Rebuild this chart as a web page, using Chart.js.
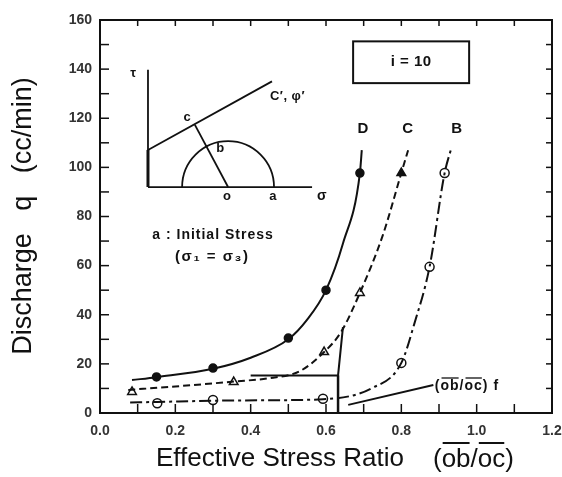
<!DOCTYPE html>
<html>
<head>
<meta charset="utf-8">
<script src="https://cdn.jsdelivr.net/npm/chart.js@4.4.1/dist/chart.umd.min.js"></script>
<style>
  html, body { margin: 0; padding: 0; background: #fff; }
</style>
</head>
<body>
<canvas id="chart" width="562" height="477"></canvas>
<script>
// measured points (markers)
var dX = [0.15, 0.30, 0.50, 0.60, 0.69];
var dY = [14.7, 18.3, 30.5, 50, 97.7];
var cX = [0.085, 0.355, 0.595, 0.69, 0.80];
var cY = [8.6, 12.6, 24.8, 48.9, 97.7];
var bX = [0.152, 0.30, 0.592, 0.80, 0.875, 0.915];
var bY = [4.0, 5.3, 5.8, 20.4, 59.5, 97.7];

// fitted curves
var dCurveX = [0.085, 0.15, 0.30, 0.40, 0.50, 0.55, 0.60, 0.645, 0.69, 0.695];
var dCurveY = [13.4, 14.6, 18.0, 22.5, 30.0, 38, 50, 69, 97.7, 107];
var cCurveX = [0.075, 0.20, 0.355, 0.45, 0.53, 0.595, 0.64, 0.69, 0.75, 0.80, 0.818];
var cCurveY = [9.4, 10.8, 12.8, 14.2, 17.0, 24.8, 33, 48.9, 72, 97.7, 107];
var bCurveX = [0.08, 0.152, 0.30, 0.45, 0.592, 0.72, 0.80, 0.835, 0.875, 0.915, 0.933];
var bCurveY = [4.3, 4.5, 5.0, 5.2, 5.6, 10, 20.4, 36.6, 59.5, 97.7, 108];

// (ob/oc)f guide lines
var guideX = [0.40, 0.632, 0.645];
var guideY = [15.3, 15.3, 35];
var stemX = [0.632, 0.632];
var stemY = [0, 15.3];
var leaderX = [0.659, 0.885];
var leaderY = [3.3, 11.4];

var xTicks = [0, 0.2, 0.4, 0.6, 0.8, 1.0, 1.2];
var yTicks = [0, 20, 40, 60, 80, 100, 120, 140, 160];

var ink = "#111";
var sans = "'Liberation Sans', Arial, sans-serif";

function pts(xs, ys) {
  return xs.map(function (x, i) { return { x: x, y: ys[i] }; });
}

function curve(xs, ys, dash) {
  return {
    data: pts(xs, ys),
    showLine: true,
    borderColor: ink,
    borderWidth: 2,
    borderDash: dash,
    pointRadius: 0,
    tension: 0.4,
    cubicInterpolationMode: "monotone",
  };
}

function straight(xs, ys, w) {
  return {
    data: pts(xs, ys),
    showLine: true,
    borderColor: ink,
    borderWidth: w,
    pointRadius: 0,
    tension: 0,
  };
}

function marks(xs, ys, style, fill, r) {
  return {
    data: pts(xs, ys),
    showLine: false,
    pointStyle: style,
    pointRadius: r,
    pointBackgroundColor: fill,
    pointBorderColor: ink,
    pointBorderWidth: 1.5,
  };
}

function overText(ctx, parts, x, y, lw) {
  parts.forEach(function (p) {
    var w = ctx.measureText(p[0]).width;
    ctx.fillText(p[0], x, y);
    if (p[1]) {
      ctx.lineWidth = lw;
      ctx.beginPath();
      ctx.moveTo(x + 1, y - p[1]);
      ctx.lineTo(x + w - 1, y - p[1]);
      ctx.stroke();
    }
    x += w;
  });
}

var extras = {
  id: "extras",
  afterDatasetsDraw: function (chart) {
    var ctx = chart.ctx, a = chart.chartArea;
    var sx = chart.scales.x, sy = chart.scales.y;
    function P(vx, vy) { return [sx.getPixelForValue(vx), sy.getPixelForValue(vy)]; }
    function seg(p, q) { ctx.beginPath(); ctx.moveTo(p[0], p[1]); ctx.lineTo(q[0], q[1]); ctx.stroke(); }
    function txt(s, p, size, align, sp) {
      ctx.font = "bold " + size + "px " + sans;
      ctx.textAlign = align || "center";
      ctx.letterSpacing = (sp || 0) + "px";
      ctx.fillText(s, p[0], p[1]);
      ctx.letterSpacing = "0px";
    }

    ctx.save();
    ctx.strokeStyle = ink;
    ctx.fillStyle = ink;
    ctx.textBaseline = "middle";

    // frame + inward ticks
    ctx.lineWidth = 2;
    ctx.strokeRect(a.left, a.top, a.right - a.left, a.bottom - a.top);
    ctx.lineWidth = 1.5;
    for (var v = 0; v <= 160; v += 10) {
      var py = sy.getPixelForValue(v);
      seg([a.left, py], [a.left + 9, py]);
      seg([a.right, py], [a.right - 6, py]);
    }
    for (var i = 0; i <= 12; i++) {
      var px = sx.getPixelForValue(i / 10);
      seg([px, a.bottom], [px, a.bottom - 9]);
      seg([px, a.top], [px, a.top + 6]);
    }

    // inset: Mohr circle sketch
    ctx.lineWidth = 1.8;
    seg(P(0.1274, 139.7), P(0.1274, 92.0));
    seg(P(0.1274, 92.0), P(0.563, 92.0));
    seg(P(0.1274, 107.1), P(0.4566, 135.0));
    seg(P(0.252, 117.3), P(0.340, 92.0));
    var o = P(0.340, 92.0);
    var r = sx.getPixelForValue(0.462) - o[0];
    ctx.beginPath();
    ctx.arc(o[0], o[1], r, Math.PI, 0);
    ctx.stroke();
    ctx.lineWidth = 3;
    seg(P(0.1274, 107.1), P(0.1274, 92.0));

    txt("\u03C4", P(0.088, 138.4), 13);
    txt("c", P(0.231, 120.5), 13);
    txt("b", P(0.319, 107.9), 13);
    txt("o", P(0.337, 88.3), 13);
    txt("a", P(0.459, 88.3), 13);
    txt("\u03C3", P(0.589, 88.3), 14);
    txt("C\u2032, \u03C6\u2032", P(0.451, 128.7), 13, "left", 0.5);

    txt("a : Initial Stress", P(0.300, 72.5), 14, "center", 1);
    txt("(\u03C3\u2081 = \u03C3\u2083)", P(0.298, 63.5), 15, "center", 1.5);

    // i = 10 box
    ctx.lineWidth = 2;
    var b1 = P(0.672, 151.3), b2 = P(0.980, 134.3);
    ctx.strokeRect(b1[0], b1[1], b2[0] - b1[0], b2[1] - b1[1]);
    txt("i = 10", P(0.826, 142.8), 15, "center", 0.5);

    // curve names
    txt("D", P(0.698, 115.6), 15);
    txt("C", P(0.817, 115.6), 15);
    txt("B", P(0.947, 115.6), 15);

    // (ob/oc) f label
    ctx.font = "bold 14px " + sans;
    ctx.textAlign = "left";
    ctx.letterSpacing = "1px";
    var lp = P(0.889, 11.4);
    overText(ctx, [["(", 0], ["ob", 8], ["/", 0], ["oc", 8], [") ", 0], ["f", 0]], lp[0], lp[1] + 1, 1.3);
    ctx.letterSpacing = "0px";

    // axis titles
    ctx.font = "26px " + sans;
    ctx.textAlign = "center";
    ctx.fillText("Effective Stress Ratio", 280, 459);
    ctx.textAlign = "left";
    overText(ctx, [["(", 0], ["ob", 17], ["/", 0], ["oc", 17], [")", 0]], 433, 460, 2);

    ctx.translate(24, 216);
    ctx.rotate(-Math.PI / 2);
    ctx.textAlign = "center";
    ctx.font = "27px " + sans;
    ctx.fillText("Discharge   q   (cc/min)", 0, 0);
    ctx.restore();
  },
};

var chart = new Chart(document.getElementById("chart").getContext("2d"), {
  type: "scatter",
  data: {
    datasets: [
      curve(dCurveX, dCurveY, []),
      curve(cCurveX, cCurveY, [7, 4]),
      curve(bCurveX, bCurveY, [12, 4, 3, 4]),
      straight(guideX, guideY, 2),
      straight(stemX, stemY, 2.5),
      straight(leaderX, leaderY, 1.8),
      marks(dX, dY, "circle", ink, 4),
      marks(cX, cY, "triangle", ["#fff", "#fff", "#fff", "#fff", ink], 5),
      marks(bX, bY, "circle", "#fff", 4.5),
    ],
  },
  options: {
    responsive: false,
    animation: false,
    layout: { autoPadding: false, padding: { top: 20, right: 10, left: 0, bottom: 0 } },
    plugins: { legend: { display: false }, tooltip: { enabled: false } },
    scales: {
      x: {
        type: "linear",
        min: 0,
        max: 1.2,
        grid: { display: false, drawTicks: false },
        border: { display: false },
        afterFit: function (s) { s.height = 64; s.paddingLeft = 0; s.paddingRight = 0; },
        afterBuildTicks: function (s) { s.ticks = xTicks.map(function (v) { return { value: v }; }); },
        ticks: {
          padding: 10,
          color: "#333",
          font: { family: sans, size: 14, weight: "bold" },
          callback: function (v) { return Number(v).toFixed(1); },
        },
      },
      y: {
        min: 0,
        max: 160,
        grid: { display: false, drawTicks: false },
        border: { display: false },
        afterFit: function (s) { s.width = 100; s.paddingTop = 0; s.paddingBottom = 0; },
        afterBuildTicks: function (s) { s.ticks = yTicks.map(function (v) { return { value: v }; }); },
        ticks: {
          padding: 8,
          color: "#333",
          font: { family: sans, size: 14, weight: "bold" },
        },
      },
    },
  },
  plugins: [extras],
});
</script>
</body>
</html>
